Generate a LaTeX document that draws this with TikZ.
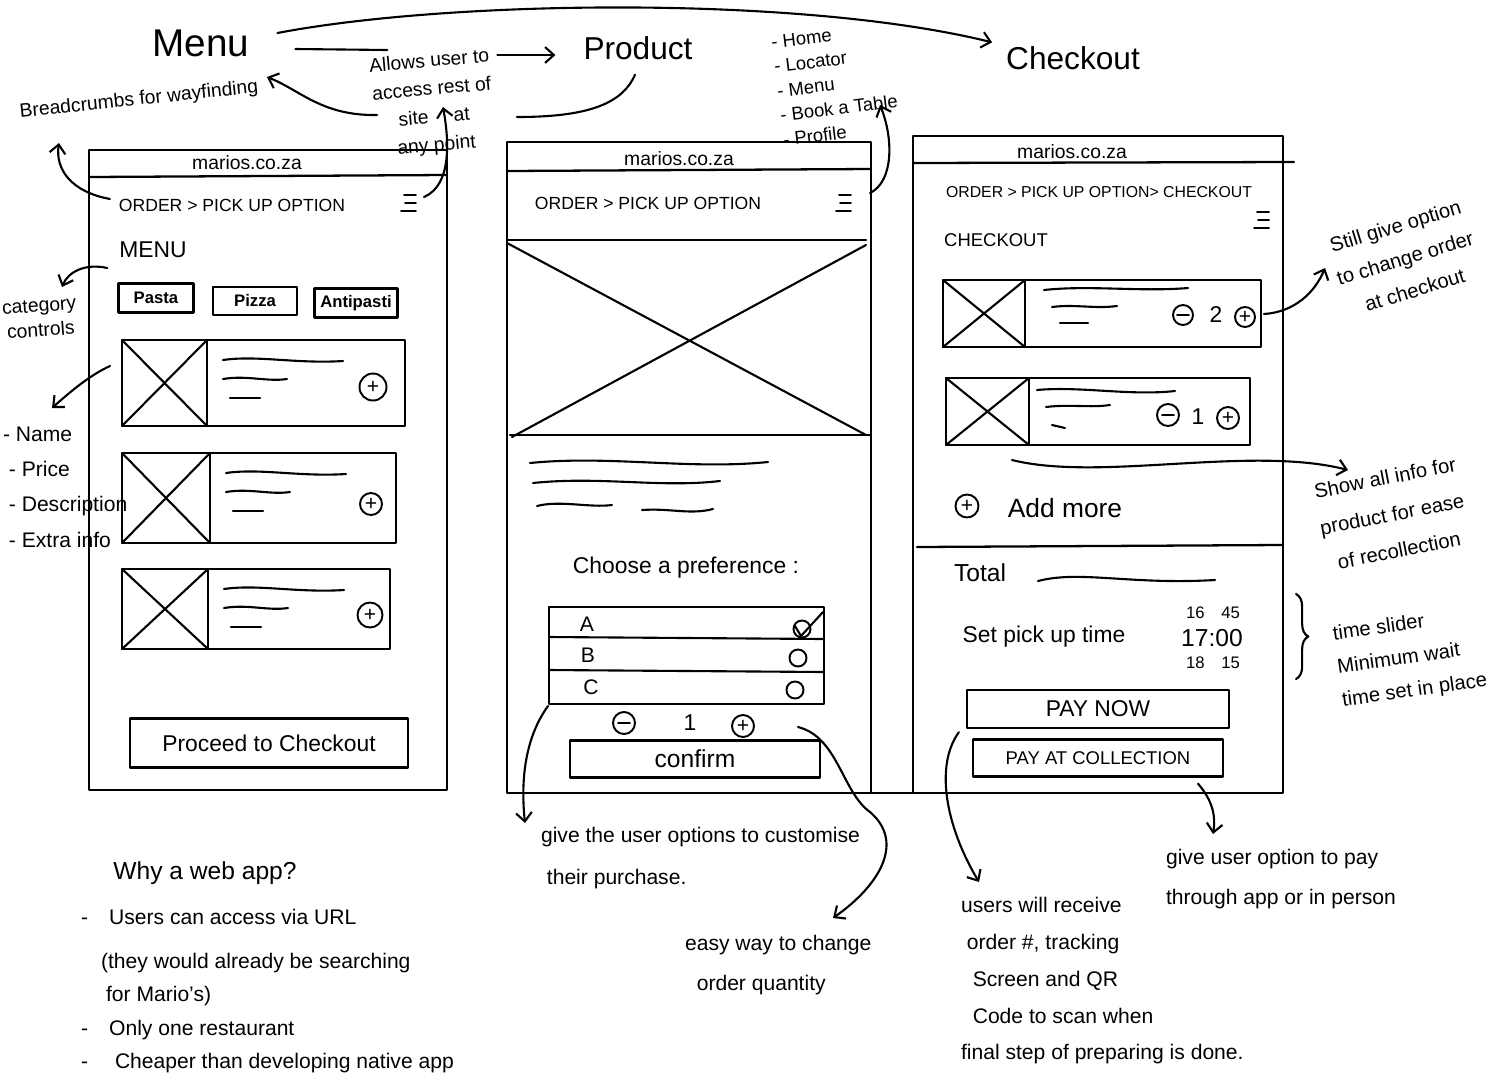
\documentclass[tikz,border=0pt]{standalone}
\usepackage{fontspec}
\setmainfont{Liberation Sans}
\usetikzlibrary{arrows.meta,decorations.pathreplacing}

\tikzset{
  burger/.pic={\draw[line width=1.1pt] (-6,-8) -- (6,-8) (-5,0) -- (6,0) (-9,8) -- (6,8);}
}

\begin{document}
\begin{tikzpicture}[x=0.2mm,y=-0.2mm,line width=1.2pt,line cap=round,line join=round,
  >={Straight Barb[length=5pt,width=9pt]},
  hand/.style={font=\fontsize{12}{20}\selectfont,inner sep=0pt,align=left},
  title/.style={font=\fontsize{18}{20}\selectfont,inner sep=0pt},
  url/.style={font=\fontsize{11}{11}\selectfont,inner sep=0pt},
  crumb/.style={font=\fontsize{10}{10}\selectfont,inner sep=0pt},
  tab/.style={draw,inner sep=0pt,font=\fontsize{9.5}{10}\selectfont\bfseries},
  btn/.style={draw,line width=1.3pt,inner sep=0pt,font=\fontsize{13}{13}\selectfont},
  plus/.style={draw,circle,line width=1.1pt,inner sep=0pt,minimum size=5mm,font=\fontsize{12}{12}\selectfont},
  minus/.style={plus,path picture={\draw[line width=1pt] ([xshift=-1.2mm]path picture bounding box.center) -- ([xshift=1.2mm]path picture bounding box.center);}},
  radio/.style={draw,circle,line width=1.1pt,inner sep=0pt,minimum size=3.4mm},
  frame/.style={line width=1.3pt}
]
\useasboundingbox (0,0) rectangle (1500,1079);
%\draw[step=100,gray,very thin] (0,0) grid (1500,1079); %background grid

% page titles
\node[title,font=\fontsize{22}{24}\selectfont] (menu) at (201,43) {Menu};
\node[title] (product) at (638,48) {Product};
\node[title] (checkout) at (1073,58) {Checkout};

\node[hand,font=\fontsize{11}{11}\selectfont,rotate=6] (crumbs) at (139,100) {Breadcrumbs for wayfinding};
\node[hand,align=center,font=\fontsize{11}{16}\selectfont,rotate=5] (allows) at (433,104) {Allows user to\\access rest of\\site\hspace{5mm}at\\any point};
\node[hand,font=\fontsize{10.5}{14}\selectfont,rotate=7] (nav) at (836,84) {- Home\\- Locator\\- Menu\\- Book a Table\\- Profile};

% panel 1: menu
\draw[frame] (89,150) rectangle (447,790);
\draw[frame] (89,177) -- (447,175);
\node[url] (url1) at (247,163) {marios.co.za};
\node[crumb] (crumb1) at (232,205) {ORDER > PICK UP OPTION};
\coordinate (ham1) at (410,203);
\pic at (ham1) {burger};
\node[font=\fontsize{13}{13}\selectfont,inner sep=0pt] (menuhead) at (153,250) {MENU};
\node[tab,minimum width=15mm,minimum height=5.8mm] (pasta) at (156,298) {Pasta};
\node[tab,minimum width=16.8mm,minimum height=5.6mm] (pizza) at (255,301) {Pizza};
\node[tab,minimum width=16.6mm,minimum height=5.8mm] (antipasti) at (356,303) {Antipasti};

\foreach \t/\b/\r/\s in {340/426/405/207, 453/543/396/210, 569/649/390/208}{
  \draw[frame] (122,\t) rectangle (\r,\b);
  \draw[frame] (\s,\t) -- (\s,\b);
  \draw (122,\t) -- (\s,\b) (\s,\t) -- (122,\b);
  \draw (\s+16,\t+20) .. controls (\s+50,\t+15) and (\s+90,\t+24) .. (\s+136,\t+21);
  \draw (\s+16,\t+39) .. controls (\s+40,\t+35) and (\s+60,\t+42) .. (\s+80,\t+39);
  \draw (\s+23,\t+58) -- (\s+53,\t+58);
}
\node[plus,minimum size=5.4mm] (add1) at (373,387) {+};
\node[plus,minimum size=4.4mm] (add2) at (371,504) {+};
\node[plus,minimum size=5mm] (add3) at (370,615) {+};
\coordinate (card1) at (110,366);
\node[btn,minimum width=55.6mm,minimum height=9.8mm] (proceed) at (269,743) {Proceed to Checkout};

% panel 2: product
\draw[frame] (507,142) rectangle (871,793);
\draw[frame] (507,171) -- (871,169);
\node[url] (url2) at (679,159) {marios.co.za};
\node[crumb] (crumb2) at (648,203) {ORDER > PICK UP OPTION};
\coordinate (ham2) at (845,203);
\pic at (ham2) {burger};
\draw[frame] (507,240) -- (866,240);
\draw[frame] (510,435) -- (871,435);
\draw (507,243) -- (866,435) (866,245) -- (512,437);
\draw (530,463) .. controls (610,455) and (690,470) .. (768,462);
\draw (533,483) .. controls (600,476) and (660,488) .. (720,481);
\draw (537,506) .. controls (560,500) and (590,508) .. (612,505);
\draw (642,510) .. controls (670,508) and (690,515) .. (713,509);
\node[font=\fontsize{13}{13}\selectfont,inner sep=0pt] (choose) at (686,568) {Choose a preference :};
\draw[frame] (549,607) rectangle (824,704);
\draw (549,637) -- (824,639);
\draw (549,670) -- (824,672);
\node[font=\fontsize{12}{12}\selectfont] (optA) at (587,624) {A};
\node[font=\fontsize{12}{12}\selectfont] (optB) at (588,655) {B};
\node[font=\fontsize{12}{12}\selectfont] (optC) at (591,687) {C};
\node[radio] (radA) at (802,629) {};
\node[radio] (radB) at (798,658) {};
\node[radio] (radC) at (795,690) {};
\draw (795,626) -- (801,636) -- (823,612);
\node[minus,minimum size=4.4mm] (qminus) at (624,723) {};
\node[font=\fontsize{13}{13}\selectfont] (qty) at (690,723) {1};
\node[plus,minimum size=4.4mm] (qplus) at (743,726) {+};
\node[btn,minimum width=50mm,minimum height=7.4mm,font=\fontsize{14}{14}\selectfont] (confirm) at (695,759) {confirm};

% panel 3: checkout
\draw[frame] (913,136) rectangle (1283,793);
\draw[frame] (913,163) -- (1294,162);
\draw[frame] (871,793) -- (913,793);
\node[url] (url3) at (1072,152) {marios.co.za};
\node[crumb,font=\fontsize{9}{9}\selectfont] (crumb3) at (1099,192) {ORDER > PICK UP OPTION> CHECKOUT};
\coordinate (ham3) at (1263,220);
\pic at (ham3) {burger};
\node[font=\fontsize{10.5}{11}\selectfont,inner sep=0pt] (chkhead) at (996,240) {CHECKOUT};

\draw[frame] (943,280) rectangle (1261,347);
\draw[frame] (1025,280) -- (1025,347);
\draw (943,280) -- (1025,347) (1025,280) -- (943,347);
\draw (1044,290) .. controls (1090,285) and (1140,292) .. (1188,288);
\draw (1052,307) .. controls (1075,304) and (1095,309) .. (1117,306);
\draw (1060,323) -- (1088,323);
\node[minus,minimum size=4mm] (aminus) at (1183,315) {};
\node[font=\fontsize{13}{13}\selectfont] (aqty) at (1216,315) {2};
\node[plus,minimum size=4mm] (aplus) at (1245,317) {+};

\draw[frame] (946,378) rectangle (1250,445);
\draw[frame] (1029,378) -- (1029,445);
\draw (946,378) -- (1029,445) (1029,378) -- (946,445);
\draw (1037,390) .. controls (1080,386) and (1130,396) .. (1175,391);
\draw (1046,407) .. controls (1070,404) and (1090,408) .. (1110,405);
\draw (1052,425) -- (1065,428);
\node[minus,minimum size=4.4mm] (bminus) at (1168,415) {};
\node[font=\fontsize{13}{13}\selectfont] (bqty) at (1198,417) {1};
\node[plus,minimum size=4.4mm] (bplus) at (1228,418) {+};

\node[plus,minimum size=4.6mm] (addmore) at (967,506) {+};
\node[font=\fontsize{15}{15}\selectfont,inner sep=0pt] (addtxt) at (1065,508) {Add more};
\draw[frame] (917,547) -- (1282,545);
\node[font=\fontsize{14}{14}\selectfont,inner sep=0pt] (total) at (980,573) {Total};
\draw (1038,581) .. controls (1080,570) and (1130,585) .. (1215,580);
\node[font=\fontsize{13}{13}\selectfont,inner sep=0pt] (settime) at (1044,637) {Set pick up time};
\node[font=\fontsize{9.5}{9.5}\selectfont] (t1) at (1213,613) {16\quad45};
\node[font=\fontsize{14}{14}\selectfont] (t2) at (1212,638) {17:00};
\node[font=\fontsize{9.5}{9.5}\selectfont] (t3) at (1213,663) {18\quad15};
\node[btn,minimum width=52.4mm,minimum height=7.6mm] (paynow) at (1098,709) {PAY NOW};
\node[btn,minimum width=50mm,minimum height=7.4mm,font=\fontsize{10.5}{11}\selectfont] (paycoll) at (1098,758) {PAY AT COLLECTION};
\draw[decorate,decoration={brace,amplitude=7pt}] (1296,594) -- (1296,679);

% side notes
\node[hand,align=center,font=\fontsize{11.5}{19}\selectfont,rotate=17] (still) at (1405,258) {Still give option\\to change order\\at checkout};
\node[hand,align=center,font=\fontsize{11.5}{21}\selectfont,rotate=11] (showall) at (1392,514) {Show all info for\\product for ease\\of recollection};
\node[hand,font=\fontsize{11.5}{19}\selectfont,rotate=8] (slider) at (1410,658) {time slider\\Minimum wait\\time set in place};
\node[hand,align=center,font=\fontsize{11}{14}\selectfont,rotate=4] (catctl) at (40,318) {category\\controls};
\node[hand,anchor=north west] (fields) at (2,426) {- Name\\\ - Price\\\ - Description\\\ - Extra info};

% bottom notes
\node[hand,font=\fontsize{14}{14}\selectfont] (why) at (205,873) {Why a web app?};
\node[hand,anchor=north west,font=\fontsize{12}{19}\selectfont] (whylist) at (80,908) {-\quad Users can access via URL\\[6pt]\hspace*{4mm}(they would already be searching\\\hspace*{5mm}for Mario's)\\-\quad Only one restaurant\\-\quad\ Cheaper than developing native app};
\node[hand,anchor=north west,font=\fontsize{12}{24}\selectfont] (custom) at (540,826) {give the user options to customise\\\ their purchase.};
\node[hand,anchor=north west,font=\fontsize{12}{23}\selectfont] (easy) at (684,934) {easy way to change\\\ \ order quantity};
\node[hand,anchor=north west,font=\fontsize{12}{21}\selectfont] (receive) at (960,896) {users will receive\\\ order \#, tracking\\\ \ Screen and QR\\\ \ Code to scan when\\final step of preparing is done.};
\node[hand,anchor=north west,font=\fontsize{12}{23}\selectfont] (paynote) at (1165,848) {give user option to pay\\through app or in person};

% connectors
\draw[->] ([shift={(27,-10)}]menu.east) .. controls (450,0) and (800,-5) .. ([shift={(-13,-3)}]checkout.north west);
\draw ([shift={(45,6)}]menu.east) -- +(92,1);
\draw[->] ([shift={(-85,7)}]product.west) -- ([shift={(-27,7)}]product.west);
\draw ([shift={(-3,14)}]product.south) .. controls (622,105) and (585,117) .. (517,117);
\draw[->] (377,115) .. controls (322,116) and (300,90) .. (267,77);
\draw[->] ([shift={(-8,-6)}]crumb1.west) .. controls (72,192) and (55,170) .. (59,143);
\draw[->] ([shift={(14,-6)}]ham1) .. controls (452,185) and (449,140) .. (443,107);
\draw[->] ([shift={(25,-10)}]ham2) .. controls (893,182) and (894,140) .. (880,105);
\draw[->] ([shift={(-11,18)}]menuhead.west) .. controls (85,263) and (68,272) .. (62,287);
\draw[->] (card1) .. controls (90,375) and (70,392) .. (52,408);
\draw[->] ([shift={(8,-3)}]aplus.east) .. controls (1295,312) and (1315,292) .. (1325,268);
\draw[->] (1012,460) .. controls (1100,482) and (1250,445) .. (1348,470);
\draw[->] (548,706) .. controls (527,735) and (520,775) .. (525,823);
\draw[->] ([shift={(43,1)}]qplus.east) .. controls (838,737) and (842,792) .. (870,812) .. controls (905,842) and (880,885) .. (833,918);
\draw[->] ([shift={(-7,3)}]paynow.south west) .. controls (935,765) and (945,825) .. (979,882);
\draw[->] ([shift={(100,6)}]paycoll.south) .. controls (1212,800) and (1216,815) .. (1213,834);
\end{tikzpicture}
\end{document}
